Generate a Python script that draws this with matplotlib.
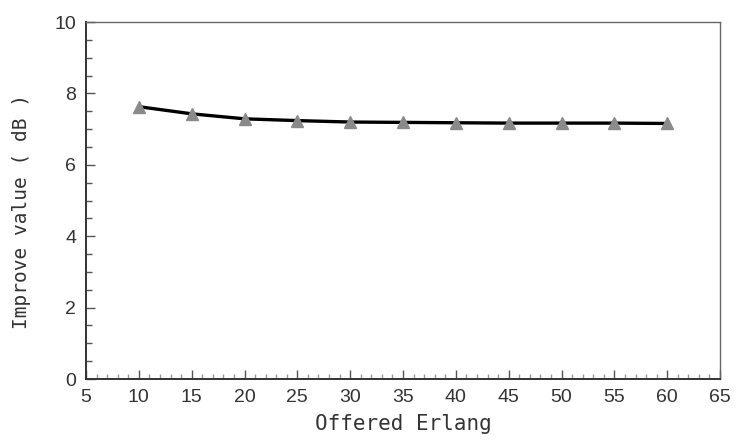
#!/usr/bin/env python3

import matplotlib
matplotlib.use("Agg")
import matplotlib.pyplot as plt
from matplotlib.ticker import MultipleLocator

# improvement versus offered traffic
offered_erlang = [10, 15, 20, 25, 30, 35, 40, 45, 50, 55, 60]
improve_db = [7.63, 7.43, 7.29, 7.24, 7.20, 7.19, 7.18, 7.17, 7.17, 7.17, 7.16]

x_ticks = [5, 10, 15, 20, 25, 30, 35, 40, 45, 50, 55, 60, 65]
y_ticks = [0, 2, 4, 6, 8, 10]


def plot_improvement():
    fig = plt.figure(figsize=(7.37, 4.42), dpi=100)
    ax = fig.add_axes([0.1167, 0.1425, 0.8603, 0.8075])

    ax.plot(offered_erlang, improve_db, color="black", linewidth=2.4, zorder=2)
    ax.plot(offered_erlang, improve_db, linestyle="none", marker="^",
            markersize=8, color="#8a8a8a", markeredgecolor="#8a8a8a", zorder=3)

    ax.set_xlim(5, 65)
    ax.set_ylim(0, 10)
    ax.set_xticks(x_ticks)
    ax.set_yticks(y_ticks)
    ax.xaxis.set_minor_locator(MultipleLocator(1))
    ax.yaxis.set_minor_locator(MultipleLocator(0.5))

    tick_font = {"family": "Liberation Sans", "size": 14}
    ax.set_xticklabels([str(v) for v in x_ticks], fontdict=tick_font, color="#333333")
    ax.set_yticklabels([str(v) for v in y_ticks], fontdict=tick_font, color="#333333")
    ax.tick_params(which="both", direction="in", top=False, right=False,
                   color="#555555", width=1)
    ax.tick_params(which="major", length=6.5, pad=7)
    ax.tick_params(which="minor", length=4)
    ax.tick_params(axis="x", which="minor", color="#999999", length=3.5)

    for side in ("left", "bottom"):
        ax.spines[side].set_color("#333333")
        ax.spines[side].set_linewidth(1.4)
    for side in ("top", "right"):
        ax.spines[side].set_color("#666666")
        ax.spines[side].set_linewidth(1.0)

    ax.set_xlabel("Offered Erlang", family="DejaVu Sans Mono", fontsize=15,
                  color="#333333", labelpad=6)
    ax.set_ylabel("Improve value ( dB )", family="DejaVu Sans Mono", fontsize=14,
                  color="#333333")
    ax.yaxis.set_label_coords(-0.087, 0.47)

    fig.savefig("out.png", dpi=100)
    plt.close(fig)


if __name__ == "__main__":
    plot_improvement()
